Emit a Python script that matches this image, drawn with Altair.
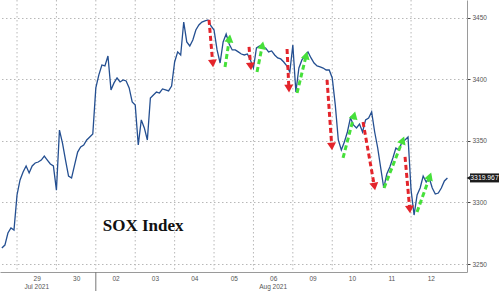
import math
import altair as alt
import pandas as pd

# ---------------- data ----------------
day_labels = ["29", "30", "02", "03", "04", "05", "06", "09", "10", "11", "12"]
month_labels = ["Jul 2021", "Aug 2021"]
month_label_pos = [1.5, 7.5]
samples_per_day = 13

jul28 = [3263.0, 3265.4, 3275.2, 3279.3, 3277.6]
jul29 = [3306.1, 3318.3, 3324.8, 3329.7, 3324.0, 3329.7, 3332.1, 3332.9, 3334.5, 3337.8, 3334.5, 3331.3, 3329.7]
jul30 = [3310.0, 3358.9, 3348.3, 3334.5, 3321.5, 3319.9, 3330.5, 3341.0, 3345.1, 3346.7, 3350.8, 3353.3, 3355.7]
aug02 = [3393.1, 3403.7, 3411.8, 3411.0, 3419.1, 3391.5, 3397.2, 3401.2, 3398.0, 3399.6, 3398.8, 3393.1, 3381.7]
aug03 = [3379.3, 3346.7, 3367.1, 3360.6, 3350.8, 3384.9, 3387.4, 3389.8, 3389.0, 3392.3, 3391.5, 3390.7, 3394.7]
aug04 = [3414.2, 3422.4, 3419.9, 3446.7, 3430.5, 3427.2, 3432.1, 3440.2, 3444.3, 3446.7, 3447.6, 3448.4, 3443.5]
aug05 = [3440.2, 3424.0, 3413.4, 3430.5, 3437.0, 3428.9, 3424.0, 3424.0, 3422.4, 3420.7, 3419.9, 3420.7, 3415.9]
aug06 = [3409.3, 3425.6, 3427.2, 3426.4, 3425.6, 3422.4, 3423.2, 3419.9, 3417.5, 3416.7, 3414.2, 3411.0, 3406.1]
aug09 = [3428.0, 3389.8, 3409.3, 3415.9, 3419.1, 3422.4, 3417.5, 3413.4, 3411.0, 3410.2, 3409.3, 3407.7, 3407.7]
aug10 = [3401.2, 3379.3, 3350.8, 3342.7, 3349.2, 3357.3, 3368.7, 3363.0, 3360.6, 3363.8, 3357.3, 3367.1, 3368.7]
aug11 = [3373.6, 3357.3, 3344.3, 3328.0, 3311.8, 3323.2, 3328.9, 3336.2, 3344.3, 3342.7, 3349.2, 3350.8, 3353.3]
aug12 = [3310.2, 3289.8, 3306.1, 3311.8, 3321.5, 3316.7, 3319.9, 3311.8, 3306.9, 3307.7, 3311.8, 3317.5, 3319.967]
last_value = 3319.967

# arrows (start -> tip) in (trading-day position, index level)
red_t1 = [5.873, 6.888, 7.853, 8.868, 9.782, 10.848]
red_v1 = [3448.4, 3426.4, 3424.8, 3399.6, 3365.4, 3337.0]
red_t2 = [5.975, 6.939, 7.904, 8.995, 10.086, 10.975]
red_v2 = [3410.2, 3407.7, 3389.8, 3342.7, 3310.2, 3291.5]
green_t1 = [6.279, 7.091, 8.107, 9.274, 10.315, 11.152]
green_v1 = [3410.2, 3406.1, 3389.0, 3336.2, 3311.8, 3292.3]
green_t2 = [6.406, 7.244, 8.360, 9.579, 10.822, 11.508]
green_v2 = [3436.2, 3430.5, 3422.4, 3373.6, 3353.3, 3324.0]

y_ticks = [3250, 3300, 3350, 3400, 3450]
title_text = "SOX Index"
title_t, title_v = 4.2, 3281.0

# ---------------- layout ----------------
W, H = 467, 272
x_dom = [0.568, 12.42]
y_dom = [3243.5, 3464.6]
RED = "#e3242b"
GREEN = "#46e03a"
LINE = "#244f91"
GRID = "#b8b8b8"
AXC = "#555555"

px_day = W / (x_dom[1] - x_dom[0])
px_pt = H / (y_dom[1] - y_dom[0])

all_days = [jul28, jul29, jul30, aug02, aug03, aug04, aug05, aug06, aug09, aug10, aug11, aug12]
rows = []
for d, vals in enumerate(all_days):
    start = samples_per_day - len(vals)
    for i, v in enumerate(vals):
        rows.append({"t": d + (start + i) / samples_per_day, "v": v})
series = pd.DataFrame(rows)

arrow_rows = []
def add_arrows(t1s, v1s, t2s, v2s, color):
    for t1, v1, t2, v2 in zip(t1s, v1s, t2s, v2s):
        dx = (t2 - t1) * px_day
        dy = -(v2 - v1) * px_pt
        L = math.hypot(dx, dy)
        ux, uy = dx / L, dy / L
        back = 3.5
        th = t2 - back * ux / px_day
        vh = v2 + back * uy / px_pt
        ang = math.degrees(math.atan2(dx, -dy)) % 360
        arrow_rows.append({"t1": t1, "v1": v1, "th": th, "vh": vh, "angle": ang, "color": color})
add_arrows(red_t1, red_v1, red_t2, red_v2, RED)
add_arrows(green_t1, green_v1, green_t2, green_v2, GREEN)
arrows = pd.DataFrame(arrow_rows)

xs = alt.Scale(domain=x_dom, nice=False, zero=False)
ys = alt.Scale(domain=y_dom, nice=False, zero=False)

label_expr = "[" + ",".join(f"'{l}'" for l in day_labels) + "][round(datum.value - 1.5)]"

x_axis = alt.Axis(values=[k + 1.5 for k in range(len(day_labels))], labelExpr=label_expr,
                  ticks=False, grid=False, domainColor="#9a9a9a", labelFontSize=6.5,
                  labelColor=AXC, labelFont="Liberation Sans", labelPadding=3,
                  labelFlush=False, title=None)
y_axis = alt.Axis(orient="right", values=y_ticks, format="d", grid=True, gridDash=[1.5, 2.5],
                  gridColor=GRID, tickSize=3, tickColor="#444444", domainColor="#9a9a9a",
                  labelFontSize=6.5, labelColor=AXC, labelFont="Liberation Sans",
                  labelPadding=2, title=None)

line = alt.Chart(series).mark_line(color=LINE, strokeWidth=1.3).encode(
    x=alt.X("t:Q", scale=xs, axis=x_axis),
    y=alt.Y("v:Q", scale=ys, axis=y_axis)
)

grid_df = pd.DataFrame({"t": list(range(1, len(day_labels) + 1))})
vgrid = alt.Chart(grid_df).mark_rule(color=GRID, strokeDash=[1.5, 2.5], strokeWidth=1).encode(
    x=alt.X("t:Q", scale=xs, axis=x_axis)
)

shafts = alt.Chart(arrows).mark_rule(strokeWidth=3, strokeDash=[5, 3], strokeCap="butt").encode(
    x=alt.X("t1:Q", scale=xs, axis=x_axis), y=alt.Y("v1:Q", scale=ys, axis=y_axis),
    x2="th:Q", y2="vh:Q",
    color=alt.Color("color:N", scale=None)
)
heads = alt.Chart(arrows).mark_point(shape="triangle-up", filled=True, size=80, opacity=1).encode(
    x=alt.X("th:Q", scale=xs, axis=x_axis), y=alt.Y("vh:Q", scale=ys, axis=y_axis),
    angle=alt.Angle("angle:Q", scale=None),
    color=alt.Color("color:N", scale=None)
)

title_df = pd.DataFrame({"t": [title_t], "v": [title_v], "label": [title_text]})
title = alt.Chart(title_df).mark_text(font="Liberation Serif", fontSize=17, fontWeight="bold",
                                      color="#111111", align="center", baseline="middle").encode(
    x=alt.X("t:Q", scale=xs, axis=x_axis), y=alt.Y("v:Q", scale=ys, axis=y_axis), text="label:N"
)

month_df = pd.DataFrame({"t": month_label_pos, "label": month_labels})
months = alt.Chart(month_df).mark_text(fontSize=6.5, font="Liberation Sans", color=AXC,
                                       align="center", baseline="top").encode(
    x=alt.X("t:Q", scale=xs, axis=x_axis), y=alt.value(H + 12), text="label:N"
)

month_sep = alt.Chart(pd.DataFrame({"t": [3]})).mark_rule(color="#777777", strokeWidth=1).encode(
    x=alt.X("t:Q", scale=xs, axis=x_axis), y=alt.value(H), y2=alt.value(H + 19)
)

last_df = pd.DataFrame({"v": [last_value], "label": [f"{last_value:.3f}"]})
box = alt.Chart(last_df).mark_rule(color="#1c1c1c", strokeWidth=9, strokeCap="butt").encode(
    y=alt.Y("v:Q", scale=ys, axis=y_axis), x=alt.value(W + 3), x2=alt.value(W + 32)
)
box_tip = alt.Chart(last_df).mark_point(shape="triangle-left", filled=True, size=30,
                                        color="#1c1c1c", opacity=1).encode(
    y=alt.Y("v:Q", scale=ys, axis=y_axis), x=alt.value(W + 2)
)
box_text = alt.Chart(last_df).mark_text(color="white", fontSize=6.8, font="Liberation Sans",
                                        align="center", baseline="middle").encode(
    y=alt.Y("v:Q", scale=ys, axis=y_axis), x=alt.value(W + 17.5), text="label:N"
)

chart = alt.layer(vgrid, line, shafts, heads, title, months, month_sep, box, box_tip, box_text).properties(
    width=W, height=H,
    padding={"left": 0, "top": 0, "right": 33, "bottom": 19},
    autosize=alt.AutoSizeParams(type="none"),
    background="white"
).configure_view(stroke=None)

chart.save("out.html", embed_options={"renderer": "svg", "actions": False})
